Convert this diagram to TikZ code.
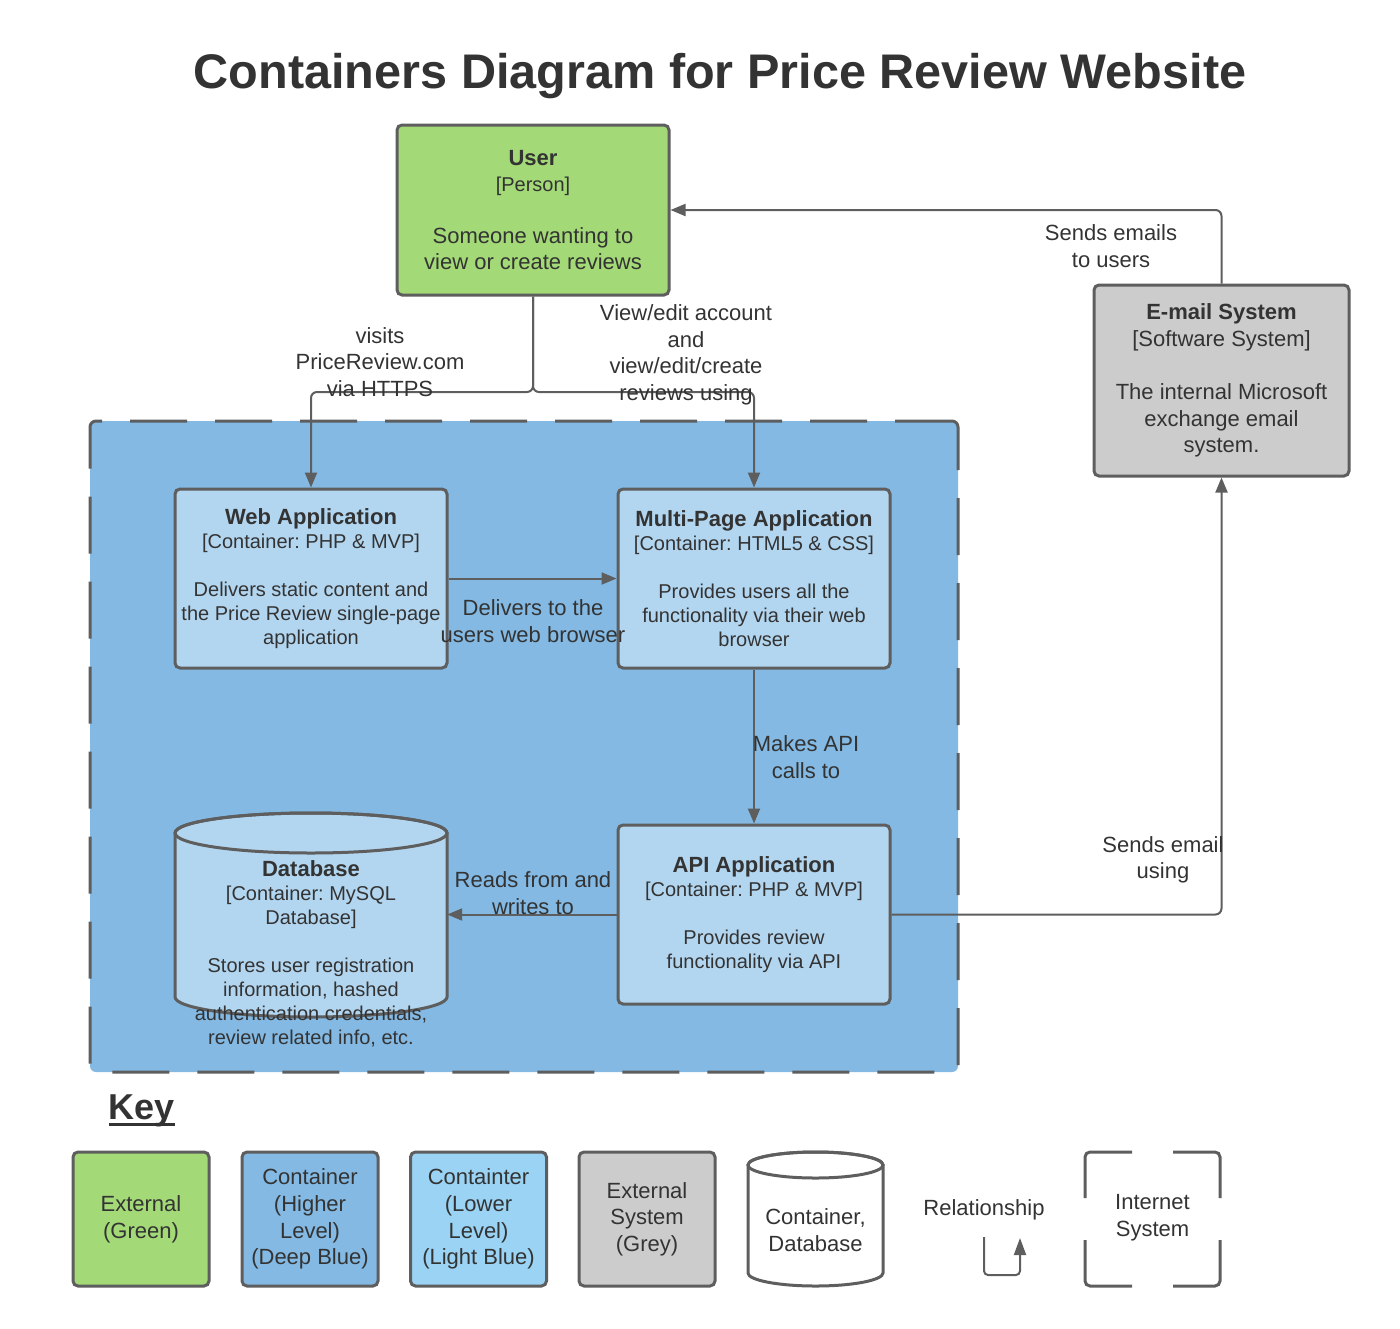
\documentclass[tikz,border=0pt]{standalone}
\usepackage{fontspec}
\setmainfont{Liberation Sans}
\usetikzlibrary{arrows.meta}
\definecolor{txt}{HTML}{333333}
\definecolor{edgec}{HTML}{5E5E5E}
\definecolor{extgreen}{HTML}{A3D977}
\definecolor{deepblue}{HTML}{83B9E3}
\definecolor{paleblue}{HTML}{B3D6F0}
\definecolor{keyblue}{HTML}{9AD3F4}
\definecolor{greyfill}{HTML}{CCCCCC}
\begin{document}
\frenchspacing
\begin{tikzpicture}[x=1pt,y=-1pt,
  every node/.style={text=txt},
  box/.style={draw=edgec, line width=3pt, rounded corners=5pt, inner sep=0pt, align=center},
  bigbox/.style={box, minimum width=272, minimum height=179, font=\fontsize{20}{24}\selectfont},
  keybox/.style={box, minimum width=136, minimum height=134, font=\fontsize{22}{26.7}\selectfont},
  rel/.style={draw=edgec, line width=2pt, rounded corners=6pt, -{Triangle[length=15pt,width=12pt]}},
  lbl/.style={align=center, font=\fontsize{22}{26.5}\selectfont, inner sep=0pt},
  cyl/.style={draw=edgec, line width=3pt}
]
\useasboundingbox (0,0) rectangle (1400,1328);

% title
\node[font=\fontsize{48.6}{58}\selectfont\bfseries] (title) at (720,76) {Containers Diagram for Price Review Website};

% system boundary
\node[draw=edgec, line width=3pt, dash pattern=on 57pt off 28pt, fill=deepblue, rounded corners=6pt, minimum width=868, minimum height=651, inner sep=0pt] (sys) at (524,746.5) {};

% user
\node[box, fill=extgreen, minimum width=272, minimum height=170, font=\fontsize{22}{26}\selectfont] (user) at (533,210)
  {\textbf{User}\\{\fontsize{20}{26}\selectfont [Person]}\\[26pt]Someone wanting to\\view or create reviews};

% email system
\node[box, fill=greyfill, minimum width=255, minimum height=191, font=\fontsize{22}{26.6}\selectfont] (email) at (1221.5,380.5)
  {\textbf{E-mail System}\\{[Software System]}\\[26.6pt]The internal Microsoft\\exchange email\\system.};

% containers
\node[bigbox, fill=paleblue] (web) at (311,578.5)
  {{\fontsize{22}{24}\selectfont\bfseries Web Application}\\{[Container: PHP \& MVP]}\\[24pt]Delivers static content and\\the Price Review single-page\\application};
\node[bigbox, fill=paleblue] (mpa) at (754,578.5)
  {{\fontsize{22}{24}\selectfont\bfseries Multi-Page Application}\\{[Container: HTML5 \& CSS]}\\[24pt]Provides users all the\\functionality via their web\\browser};
\node[bigbox, fill=paleblue] (api) at (754,914.5)
  {{\fontsize{22}{24}\selectfont\bfseries API Application}\\{[Container: PHP \& MVP]}\\[24pt]Provides review\\functionality via API};

% database cylinder
\node[inner sep=0pt, minimum width=272, minimum height=204] (db) at (311,914.5) {};
\draw[cyl, fill=paleblue] (175,833) -- (175,997) arc[start angle=180, end angle=0, x radius=136, y radius=20] -- (447,833) arc[start angle=0, end angle=-180, x radius=136, y radius=20] -- cycle;
\draw[cyl] (311,833) ellipse [x radius=136, y radius=20];
\node[align=center, font=\fontsize{20}{24}\selectfont, inner sep=0pt] (dbtext) at (311,954)
  {{\fontsize{22}{24}\selectfont\bfseries Database}\\{[Container: MySQL}\\Database]\\[24pt]Stores user registration\\information, hashed\\authentication credentials,\\review related info, etc.};

% connectors
\draw[rel] (user.south) -- (533,392) -| (web.north);
\draw[rel] (user.south) -- (533,392) -| (mpa.north);
\draw[rel] (web.east) -- (mpa.west);
\draw[rel] (mpa.south) -- (api.north);
\draw[rel] (api.west) -- (db.east);
\draw[rel] (api.east) -| (email.south);
\draw[rel] (email.north) |- (user.east);

% connector labels
\node[lbl] (l1) at (380,362) {visits\\PriceReview.com\\via HTTPS};
\node[lbl] (l2) at (686,355) {View/edit account\\and\\view/edit/create\\reviews using};
\node[lbl] (l3) at (533,621) {Delivers to the\\users web browser};
\node[lbl] (l4) at (806,757) {Makes API\\calls to};
\node[lbl] (l5) at (533,893) {Reads from and\\writes to};
\node[lbl] (l6) at (1163,860) {Sends email\\using};
\node[lbl] (l7) at (1111,246) {Sends emails\\to users};

% key
\node[font=\fontsize{36}{40}\selectfont\bfseries, anchor=base, inner sep=0pt] (keylbl) at (142,1119) {Key};
\draw[line width=3pt, draw=txt] (109,1124) -- (175,1124);

\node[keybox, fill=extgreen] (k1) at (141,1219) {External\\(Green)};
\node[keybox, fill=deepblue] (k2) at (310,1219) {Container\\(Higher\\Level)\\(Deep Blue)};
\node[keybox, fill=keyblue] (k3) at (478.5,1219) {Containter\\(Lower\\Level)\\(Light Blue)};
\node[keybox, fill=greyfill] (k4) at (647,1219) {External\\System\\(Grey)};

% key cylinder
\draw[cyl, fill=white] (748,1165) -- (748,1273) arc[start angle=180, end angle=0, x radius=67.5, y radius=13] -- (883,1165) arc[start angle=0, end angle=-180, x radius=67.5, y radius=13] -- cycle;
\draw[cyl] (815.5,1165) ellipse [x radius=67.5, y radius=13];
\node[align=center, font=\fontsize{22}{26.5}\selectfont, inner sep=0pt] (k5) at (815.5,1230) {Container,\\Database};

% relationship key
\node[font=\fontsize{22}{26.5}\selectfont, inner sep=0pt] (k6) at (984,1210) {Relationship};
\draw[draw=edgec, line width=2pt, rounded corners=4pt, -{Triangle[length=17pt,width=12pt]}] (984,1237) -- (984,1275) -- (1020,1275) -- (1020,1238);

% internet system key
\node[align=center, font=\fontsize{22}{26.7}\selectfont, inner sep=0pt, minimum width=135, minimum height=134] (k7) at (1152.5,1218) {Internet\\System};
\draw[cyl, rounded corners=5pt] (1132,1152) -- (1085,1152) -- (1085,1198);
\draw[cyl, rounded corners=5pt] (1173,1152) -- (1220,1152) -- (1220,1198);
\draw[cyl, rounded corners=5pt] (1085,1240) -- (1085,1286) -- (1132,1286);
\draw[cyl, rounded corners=5pt] (1220,1240) -- (1220,1286) -- (1173,1286);
\end{tikzpicture}
\end{document}
